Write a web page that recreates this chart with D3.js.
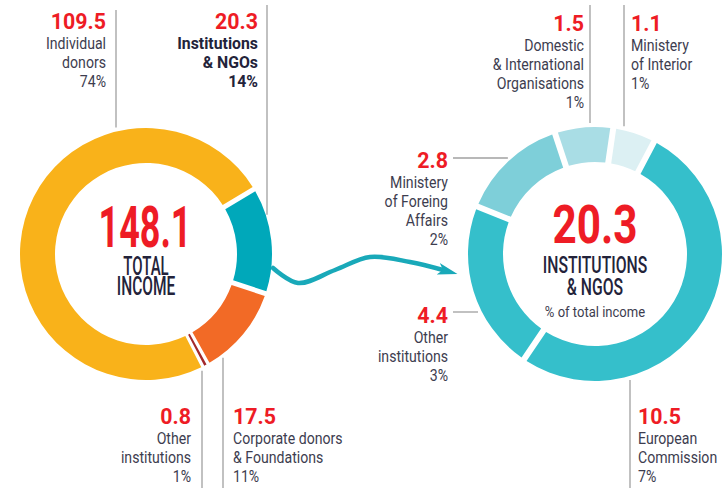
<!DOCTYPE html>
<html>
<head>
<meta charset="utf-8">
<script src="https://cdn.jsdelivr.net/npm/d3@7"></script>
<style>
  body { margin: 0; background: #fff; }
  svg { display: block; font-family: Roboto, "Noto Sans", sans-serif; }
</style>
</head>
<body>
<div id="chart"></div>
<script>
// total income, listed in ring order starting from the teal slice
var incomeNames = [["Institutions", "& NGOs"], ["Corporate donors", "& Foundations"], ["Other", "institutions"], ["Individual", "donors"]];
var incomeValues = [20.3, 17.5, 0.8, 109.5];
var incomePct = ["14%", "11%", "1%", "74%"];
var incomeColors = ["#00a8ba", "#f26a26", "#a3292b", "#f9b21a"];

// institutions & NGOs split
var instNames = [["Ministery", "of Foreing", "Affairs"], ["Domestic", "& International", "Organisations"], ["Ministery", "of Interior"], ["European", "Commission"], ["Other", "institutions"]];
var instValues = [2.8, 1.5, 1.1, 10.5, 4.4];
var instPct = ["2%", "1%", "1%", "7%", "3%"];
var instColors = ["#7ecfd9", "#a9dde5", "#dcf0f3", "#35bfcb", "#35bfcb"];

var RED = "#ee1c25", INK = "#3d3d4f", DARK = "#23233a", GREY = "#a0a0a0";

var width = 727, height = 488;

var svg = d3.select("#chart").append("svg")
      .attr("width", width)
      .attr("height", height);

var leftRing = { cx: 146, cy: 254, r0: 91, r1: 126, start: 59, gap: 5 };
var rightRing = { cx: 595, cy: 254, r0: 92, r1: 127, start: -68, gap: 6 };

// where each label sits, same order as the data
var incomeLayout = [
  { anchor: "end", x: 258, y: 29, bold: true, leader: { dir: "v", at: 267, from: 5 } },
  { anchor: "start", x: 233, y: 424, leader: { dir: "v", at: 223, from: 488 } },
  { anchor: "end", x: 191, y: 424, leader: { dir: "v", at: 202, from: 488 } },
  { anchor: "end", x: 106, y: 29, leader: { dir: "v", at: 116, from: 10 } }
];
var instLayout = [
  { anchor: "end", x: 448, y: 168, leader: { dir: "h", at: 158, from: 453 } },
  { anchor: "end", x: 584, y: 31, leader: { dir: "v", at: 590, from: 5 } },
  { anchor: "start", x: 631, y: 31, leader: { dir: "v", at: 624, from: 5 } },
  { anchor: "start", x: 638, y: 424, leader: { dir: "v", at: 630, from: 488 } },
  { anchor: "end", x: 448, y: 323, leader: { dir: "h", at: 312, from: 453 } }
];

function drawRing(spec, values, colors) {
  var a0 = spec.start * Math.PI / 180;
  var pie = d3.pie().sort(null).value(d => d)
      .startAngle(a0).endAngle(a0 + 2 * Math.PI);
  var pad = spec.gap / 100;
  var arc = d3.arc().innerRadius(spec.r0).outerRadius(spec.r1)
      .padRadius(100).padAngle(pad);
  var thin = d3.arc().innerRadius(spec.r0).outerRadius(spec.r1);

  var g = svg.append("g")
      .attr("transform", "translate(" + spec.cx + "," + spec.cy + ")");

  g.selectAll("path")
    .data(pie(values))
    .enter().append("path")
      .attr("fill", (d, i) => colors[i])
      .attr("d", function (d) {
        if (d.endAngle - d.startAngle < pad * 1.5) {
          // too small to survive the padding: draw a hairline slice instead
          var m = (d.startAngle + d.endAngle) / 2;
          return thin({ startAngle: m - 0.01, endAngle: m + 0.01 });
        }
        return arc(d);
      });
}

function ringEdge(spec, along, dir, side) {
  var d = dir == "v" ? along - spec.cx : along - spec.cy;
  var h = Math.sqrt(spec.r1 * spec.r1 - d * d) + 4;
  if (dir == "v") return side < 0 ? spec.cy - h : spec.cy + h;
  return side < 0 ? spec.cx - h : spec.cx + h;
}

// squeeze text sideways so Roboto reads like the condensed face of the original
function squeezed(x, y, sx, anchor, size, weight, color, str) {
  svg.append("g")
      .attr("transform", "translate(" + x + "," + y + ") scale(" + sx + ",1)")
    .append("text")
      .attr("text-anchor", anchor)
      .attr("font-size", size)
      .attr("font-weight", weight)
      .attr("fill", color)
      .text(str);
}

function drawLabels(spec, values, names, pct, layout) {
  layout.forEach(function (p, i) {
    var L = p.leader;
    if (L.dir == "v") {
      var side = L.from < spec.cy ? -1 : 1;
      svg.append("line")
        .attr("x1", L.at).attr("x2", L.at)
        .attr("y1", L.from).attr("y2", ringEdge(spec, L.at, "v", side))
        .attr("stroke", GREY).attr("stroke-width", 1.3);
    } else {
      svg.append("line")
        .attr("y1", L.at).attr("y2", L.at)
        .attr("x1", L.from).attr("x2", ringEdge(spec, L.at, "h", -1))
        .attr("stroke", GREY).attr("stroke-width", 1.3);
    }

    squeezed(p.x, p.y, 0.93, p.anchor, 23, 700, RED, values[i]);
    names[i].concat([pct[i]]).forEach(function (s, j) {
      squeezed(p.x, p.y + 20 + j * 19, p.bold ? 0.93 : 0.83, p.anchor, 17,
               p.bold ? 700 : 400, p.bold ? DARK : INK, s);
    });
  });
}

drawRing(leftRing, incomeValues, incomeColors);
drawRing(rightRing, instValues, instColors);
drawLabels(leftRing, incomeValues, incomeNames, incomePct, incomeLayout);
drawLabels(rightRing, instValues, instNames, instPct, instLayout);

var fmt = d3.format(".1f");
squeezed(leftRing.cx - 1, 247, 0.62, "middle", 58, 700, RED, fmt(d3.sum(incomeValues)));
squeezed(leftRing.cx, 275, 0.6, "middle", 25, 500, DARK, "TOTAL");
squeezed(leftRing.cx, 295, 0.62, "middle", 25, 500, DARK, "INCOME");

squeezed(rightRing.cx, 243, 0.79, "middle", 53.5, 700, RED, fmt(d3.sum(instValues)));
squeezed(rightRing.cx, 273, 0.67, "middle", 23.5, 500, DARK, "INSTITUTIONS");
squeezed(rightRing.cx, 295, 0.67, "middle", 23.5, 500, DARK, "& NGOS");
squeezed(rightRing.cx, 317, 0.87, "middle", 15, 400, INK, "% of total income");

// the wavy arrow from the teal slice over to the second ring
var defs = svg.append("defs");
defs.append("marker")
    .attr("id", "head")
    .attr("markerUnits", "userSpaceOnUse")
    .attr("viewBox", "0 -7 20 14")
    .attr("refX", 5).attr("refY", 0)
    .attr("markerWidth", 20).attr("markerHeight", 14)
    .attr("orient", "auto")
  .append("path")
    .attr("d", "M0,-6L20,0L0,6L5,0Z")
    .attr("fill", "#19a9b9");

var x0 = leftRing.cx + leftRing.r1 + 1, y0 = leftRing.cy + 14;
var wave = [[x0, y0], [x0 + 25, y0 + 15], [x0 + 62, y0 + 2], [x0 + 97, y0 - 11], [x0 + 137, y0 - 6], [x0 + 170, y0 + 2]];
svg.append("path")
    .attr("d", d3.line().curve(d3.curveCatmullRom)(wave))
    .attr("fill", "none")
    .attr("stroke", "#19a9b9")
    .attr("stroke-width", 4.5)
    .attr("stroke-linecap", "round")
    .attr("marker-end", "url(#head)");
</script>
</body>
</html>
